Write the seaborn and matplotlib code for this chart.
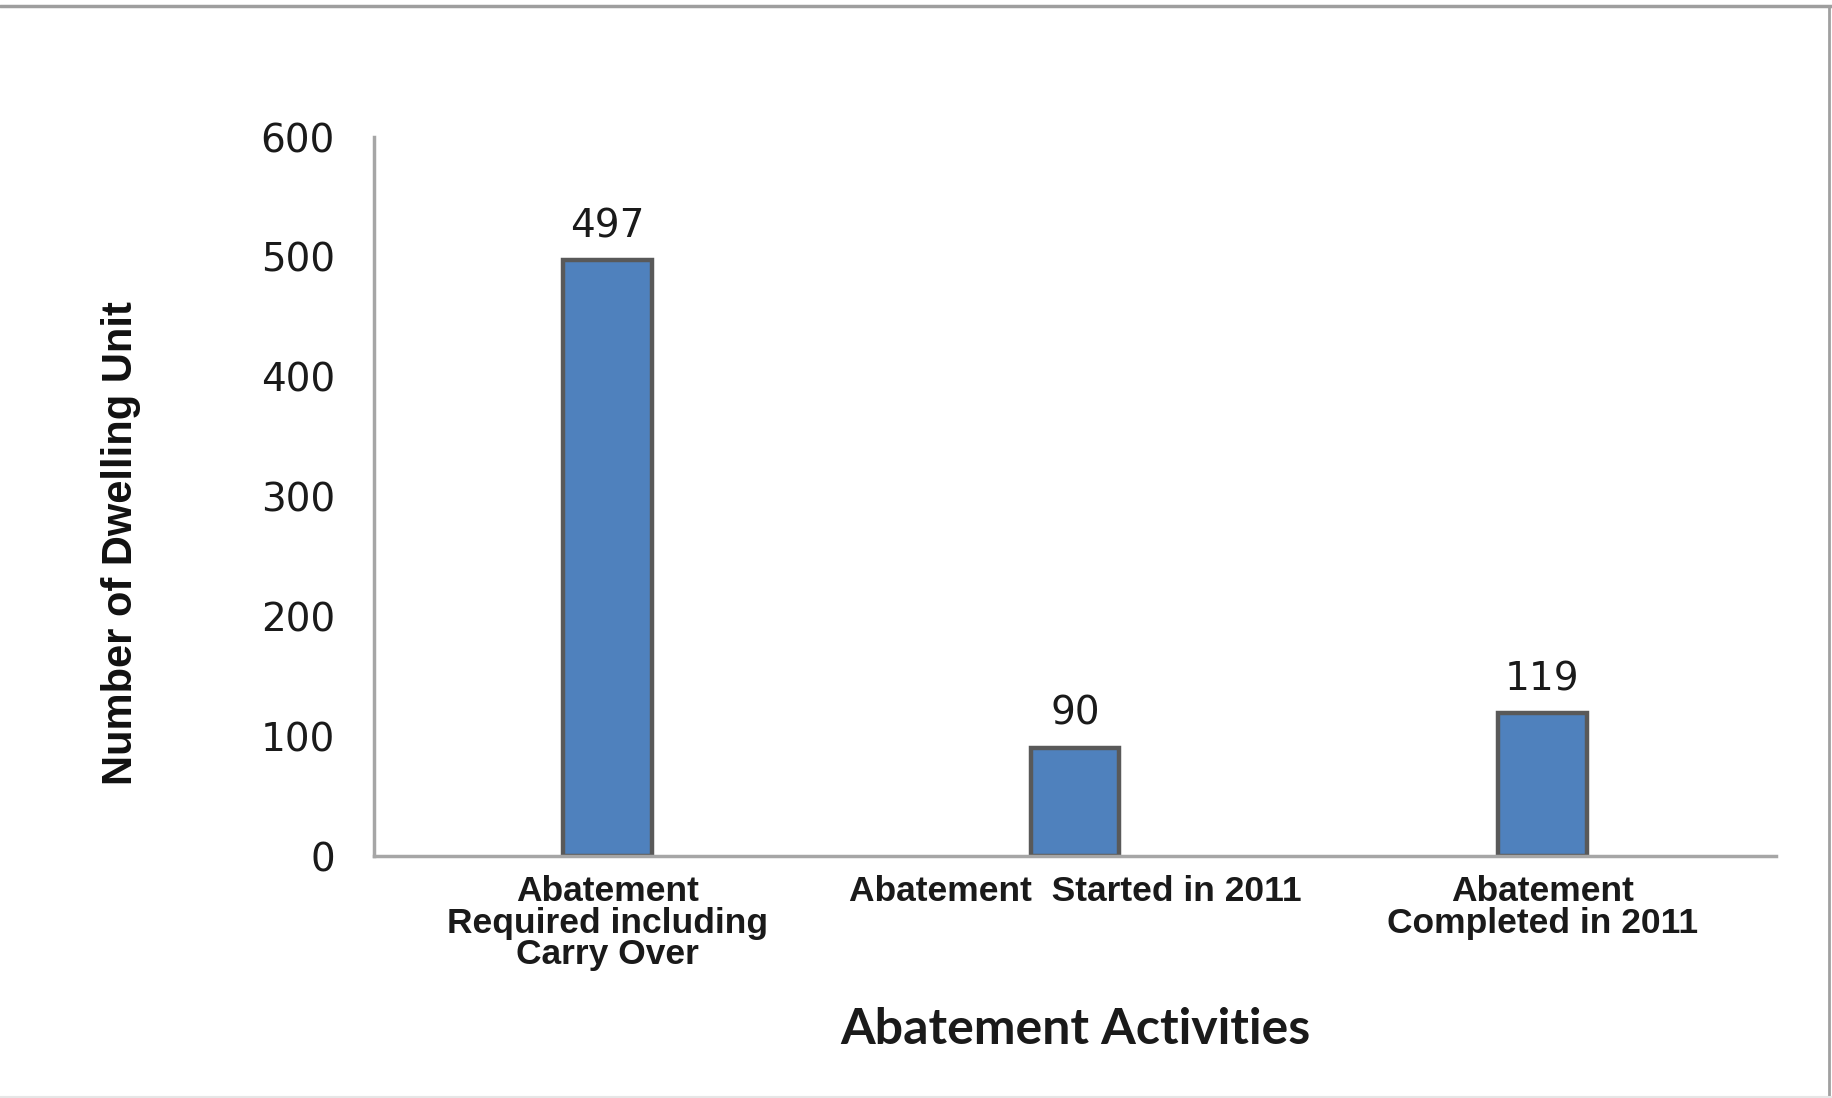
import matplotlib
matplotlib.use("Agg")
import matplotlib.pyplot as plt
from matplotlib.lines import Line2D
import seaborn as sns
import pandas as pd

# Abatement activity counts (dwelling units)
categories = [
    "Abatement\nRequired including\nCarry Over",
    "Abatement  Started in 2011",
    "Abatement\nCompleted in 2011",
]
units = [497, 90, 119]
y_ticks = [0, 100, 200, 300, 400, 500, 600]

df = pd.DataFrame({"activity": categories, "units": units})

sns.set_theme(style="white")
plt.rcParams["font.family"] = ["DejaVu Sans"]

fig = plt.figure(figsize=(18.32, 10.98), dpi=100)
fig.patch.set_facecolor("white")
ax = fig.add_axes([0.2041, 0.2204, 0.7653, 0.6548])

sns.barplot(data=df, x="activity", y="units", color="#4F81BD", saturation=1,
            width=0.19, edgecolor="#595959", linewidth=3.2, ax=ax)

ax.set_ylim(0, 600)
ax.set_yticks(y_ticks)
ax.set_yticklabels([str(t) for t in y_ticks], fontsize=28, color="#1a1a1a",
                   family="DejaVu Sans")
ax.tick_params(axis="y", length=0, pad=28)
ax.tick_params(axis="x", length=0, pad=14)
for lbl in ax.get_xticklabels():
    lbl.set_fontfamily("Liberation Sans")
    lbl.set_fontweight("bold")
    lbl.set_fontsize(25.5)
    lbl.set_color("#1a1a1a")
    lbl.set_linespacing(0.93)

for side in ["top", "right"]:
    ax.spines[side].set_visible(False)
for side in ["left", "bottom"]:
    ax.spines[side].set_color("#A6A6A6")
    ax.spines[side].set_linewidth(2.5)
ax.grid(False)

# value labels above each bar
for i, v in enumerate(units):
    ax.annotate(str(v), xy=(i, v), xytext=(0, 11), textcoords="offset points",
                ha="center", va="bottom", fontsize=28, color="#1a1a1a",
                family="DejaVu Sans")

ax.set_xlabel("Abatement Activities", fontsize=36, fontweight="bold",
              family="Lato", color="#1a1a1a", labelpad=26)
ax.set_ylabel("Number of Dwelling Unit", fontsize=30, fontweight="bold",
              family="Liberation Sans", color="#111111")
ax.yaxis.set_label_coords(-0.166, 0.435)

# thin frame around the figure
fig.add_artist(Line2D([0, 1], [0.9945, 0.9945], transform=fig.transFigure,
                      color="#9E9E9E", linewidth=2.5))
fig.add_artist(Line2D([0.9985, 0.9985], [0, 0.9945], transform=fig.transFigure,
                      color="#A0A0A0", linewidth=2))
fig.add_artist(Line2D([0, 1], [0.001, 0.001], transform=fig.transFigure,
                      color="#E6E6E6", linewidth=1.5))

fig.savefig("out.png", dpi=100, facecolor="white")
